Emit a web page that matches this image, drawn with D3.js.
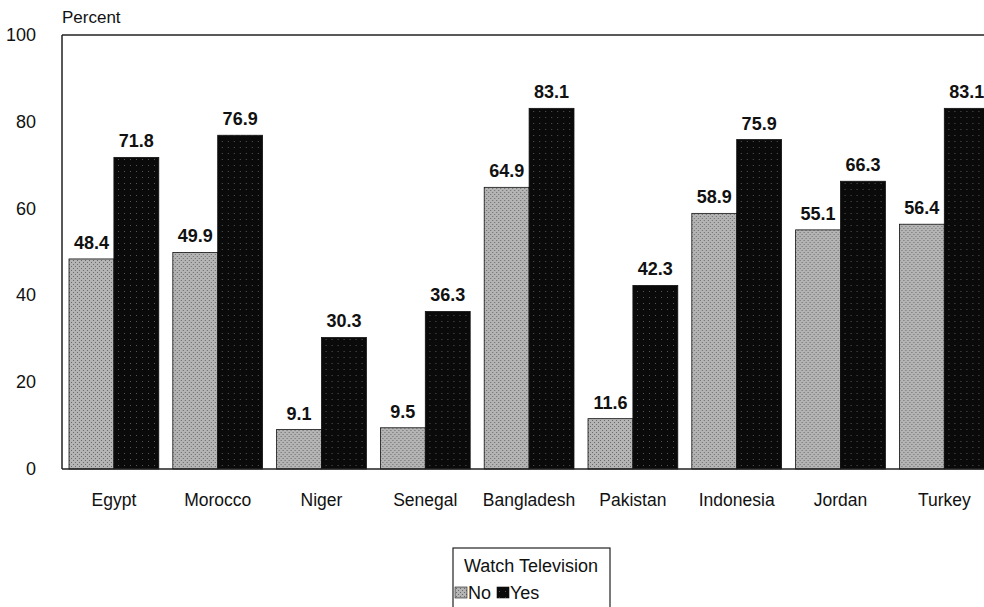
<!DOCTYPE html>
<html>
<head>
<meta charset="utf-8">
<script src="https://cdn.jsdelivr.net/npm/d3@7"></script>
<style>
  body { margin: 0; background: #fff; }
  svg { display: block; font-family: "Liberation Sans", Arial, sans-serif; }
</style>
</head>
<body>
<div id="chart"></div>
<script>
const countries = ["Egypt", "Morocco", "Niger", "Senegal", "Bangladesh", "Pakistan", "Indonesia", "Jordan", "Turkey"];
const noValues = [48.4, 49.9, 9.1, 9.5, 64.9, 11.6, 58.9, 55.1, 56.4];
const yesValues = [71.8, 76.9, 30.3, 36.3, 83.1, 42.3, 75.9, 66.3, 83.1];
const seriesNames = ["No", "Yes"];
const yTicks = [0, 20, 40, 60, 80, 100];

const width = 984;
const height = 607;
const plotLeft = 62, plotTop = 35, plotBottom = 469;

const svg = d3.select("#chart").append("svg")
    .attr("width", width)
    .attr("height", height);

// speckled fills to look like the scanned print
const defs = svg.append("defs");
const noPat = defs.append("pattern").attr("id", "noFill")
    .attr("width", 4).attr("height", 4).attr("patternUnits", "userSpaceOnUse");
noPat.append("rect").attr("width", 4).attr("height", 4).attr("fill", "#b4b4b4");
noPat.append("rect").attr("x", 0).attr("y", 0).attr("width", 1).attr("height", 1).attr("fill", "#6a6a6a");
noPat.append("rect").attr("x", 2).attr("y", 2).attr("width", 1).attr("height", 1).attr("fill", "#6a6a6a");
const yesPat = defs.append("pattern").attr("id", "yesFill")
    .attr("width", 6).attr("height", 6).attr("patternUnits", "userSpaceOnUse");
yesPat.append("rect").attr("width", 6).attr("height", 6).attr("fill", "#0a0a0a");
yesPat.append("rect").attr("x", 1).attr("y", 3).attr("width", 1).attr("height", 1).attr("fill", "#555");

const x = d3.scaleBand().domain(countries).range([plotLeft, plotLeft + 9 * 103.8]).paddingInner(0.135).paddingOuter(0.0675);
const xs = d3.scaleBand().domain(seriesNames).range([0, x.bandwidth()]);
const y = d3.scaleLinear().domain([0, 100]).range([plotBottom, plotTop]);

// frame: top line and left axis
svg.append("line").attr("x1", plotLeft).attr("x2", width).attr("y1", plotTop).attr("y2", plotTop)
    .attr("stroke", "#222").attr("stroke-width", 1.5);
svg.append("line").attr("x1", plotLeft).attr("x2", plotLeft).attr("y1", plotTop).attr("y2", plotBottom)
    .attr("stroke", "#222").attr("stroke-width", 1.5);

// y tick labels
svg.selectAll(".ytick").data(yTicks).enter().append("text")
    .attr("x", 36).attr("y", d => y(d) + 6)
    .attr("text-anchor", "end")
    .attr("font-size", 18)
    .attr("fill", "#111")
    .text(d => d);

svg.append("text").attr("x", 62).attr("y", 23).attr("font-size", 17).attr("fill", "#111").text("Percent");

const data = countries.map((c, i) => ({ country: c, vals: [
    { key: "No", v: noValues[i] }, { key: "Yes", v: yesValues[i] }] }));

const groups = svg.selectAll(".grp").data(data).enter().append("g")
    .attr("transform", d => "translate(" + x(d.country) + ",0)");

groups.selectAll("rect").data(d => d.vals).enter().append("rect")
    .attr("x", d => xs(d.key))
    .attr("y", d => y(d.v))
    .attr("width", xs.bandwidth())
    .attr("height", d => plotBottom - y(d.v))
    .attr("fill", d => d.key === "No" ? "url(#noFill)" : "url(#yesFill)")
    .attr("stroke", "#111").attr("stroke-width", 0.8);

groups.selectAll(".val").data(d => d.vals).enter().append("text")
    .attr("x", d => xs(d.key) + xs.bandwidth() / 2)
    .attr("y", d => y(d.v) - 10)
    .attr("text-anchor", "middle")
    .attr("font-size", 18)
    .attr("font-weight", "bold")
    .attr("fill", "#111")
    .text(d => d.v.toFixed(1));

// baseline
svg.append("line").attr("x1", plotLeft).attr("x2", width).attr("y1", plotBottom).attr("y2", plotBottom)
    .attr("stroke", "#222").attr("stroke-width", 1.5);

svg.selectAll(".cat").data(countries).enter().append("text")
    .attr("x", d => x(d) + x.bandwidth() / 2)
    .attr("y", 506)
    .attr("text-anchor", "middle")
    .attr("font-size", 17.5)
    .attr("fill", "#111")
    .text(d => d);

// legend
const lg = svg.append("g");
lg.append("rect").attr("x", 453).attr("y", 548).attr("width", 157).attr("height", 70)
    .attr("fill", "none").attr("stroke", "#222").attr("stroke-width", 1.2);
lg.append("text").attr("x", 531).attr("y", 572).attr("text-anchor", "middle")
    .attr("font-size", 18).attr("fill", "#111").text("Watch Television");
const items = [{ k: "No", x: 455, tx: 468 }, { k: "Yes", x: 497, tx: 510 }];
items.forEach(it => {
    lg.append("rect").attr("x", it.x).attr("y", 587).attr("width", 12).attr("height", 11)
        .attr("fill", it.k === "No" ? "url(#noFill)" : "url(#yesFill)")
        .attr("stroke", "#111").attr("stroke-width", 0.6);
    lg.append("text").attr("x", it.tx).attr("y", 599).attr("font-size", 18).attr("fill", "#111").text(it.k);
});
</script>
</body>
</html>
